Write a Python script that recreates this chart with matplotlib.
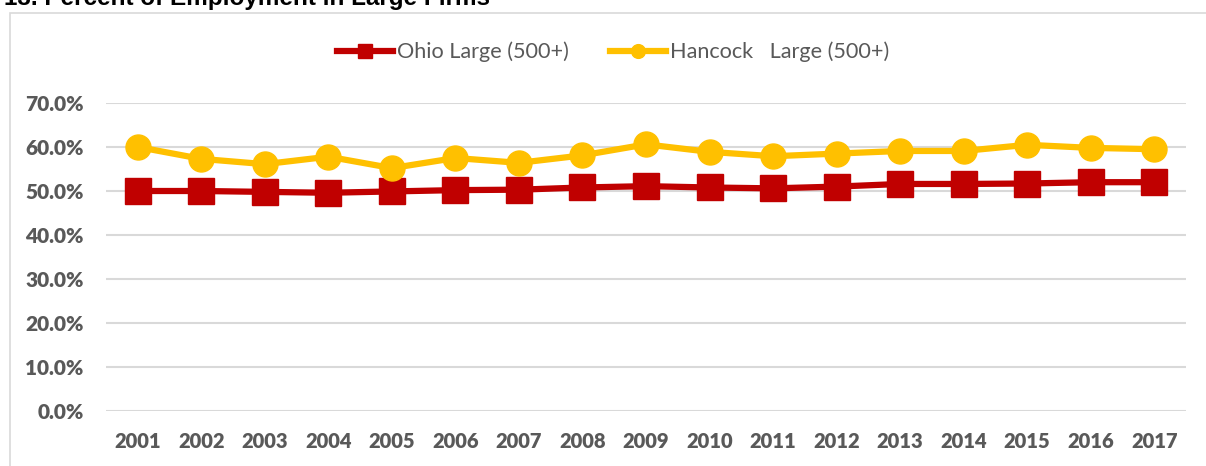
import matplotlib
matplotlib.use("Agg")
import matplotlib.pyplot as plt
from matplotlib.patches import Rectangle
from matplotlib.ticker import PercentFormatter

years = ["2001", "2002", "2003", "2004", "2005", "2006", "2007", "2008", "2009",
         "2010", "2011", "2012", "2013", "2014", "2015", "2016", "2017"]
ohio_large = [50.0, 50.0, 49.8, 49.6, 49.9, 50.2, 50.3, 50.8, 51.1,
              50.8, 50.6, 51.0, 51.6, 51.6, 51.7, 52.0, 52.0]
hancock_large = [60.0, 57.3, 56.1, 57.8, 55.2, 57.5, 56.4, 58.1, 60.6,
                 58.9, 57.9, 58.5, 59.1, 59.1, 60.5, 59.8, 59.5]
series_labels = ["Ohio Large (500+)", "Hancock   Large (500+)"]
title = "13. Percent of Employment in Large Firms"

W, H = 1206, 466
fig = plt.figure(figsize=(W / 100, H / 100), dpi=100)

# chart border
fig.patches.append(Rectangle((10 / W, -0.05), 1.2, (H - 13) / H + 0.05,
                             transform=fig.transFigure, fill=False,
                             edgecolor="#D9D9D9", linewidth=1.2))

fig.text(4 / W, 1 - 5 / H, title, fontsize=17.5, fontweight="bold",
         family="Liberation Sans", color="black", va="baseline", ha="left")

ax = fig.add_axes([106 / W, (H - 411) / H, (1186 - 106) / W, (411 - 103) / H])
x = list(range(len(years)))
red = "#C00000"
gold = "#FFC000"
l1, = ax.plot(x, [v / 100 for v in ohio_large], color=red, lw=4.5, marker="s",
              markersize=19, label=series_labels[0], zorder=3)
l2, = ax.plot(x, [v / 100 for v in hancock_large], color=gold, lw=4.5, marker="o",
              markersize=18, label=series_labels[1], zorder=3)

ax.set_xlim(-0.5, len(years) - 0.5)
ax.set_ylim(0, 0.7)
ax.set_yticks([i / 10 for i in range(8)])
ax.yaxis.set_major_formatter(PercentFormatter(1.0, decimals=1))
ax.set_xticks(x)
ax.set_xticklabels(years)
ax.grid(axis="y", color="#D9D9D9", lw=1.5)
ax.set_axisbelow(True)
for s in ax.spines.values():
    s.set_visible(False)
ax.tick_params(length=0, colors="#595959")
ax.tick_params(axis="y", pad=16, labelsize=15)
ax.tick_params(axis="x", pad=15, labelsize=14.5)
for lab in ax.get_xticklabels() + ax.get_yticklabels():
    lab.set_fontfamily("Lato")
    lab.set_fontweight("heavy")

leg = fig.legend(handles=[l1, l2], loc="center", bbox_to_anchor=(613 / W, 1 - 52 / H),
                 ncol=2, frameon=False, markerscale=0.55, handlelength=2.6,
                 columnspacing=1.9, handletextpad=0.18,
                 prop={"family": "Lato", "size": 15.6})
for t in leg.get_texts():
    t.set_color("#595959")

fig.savefig("out.png", dpi=100)
